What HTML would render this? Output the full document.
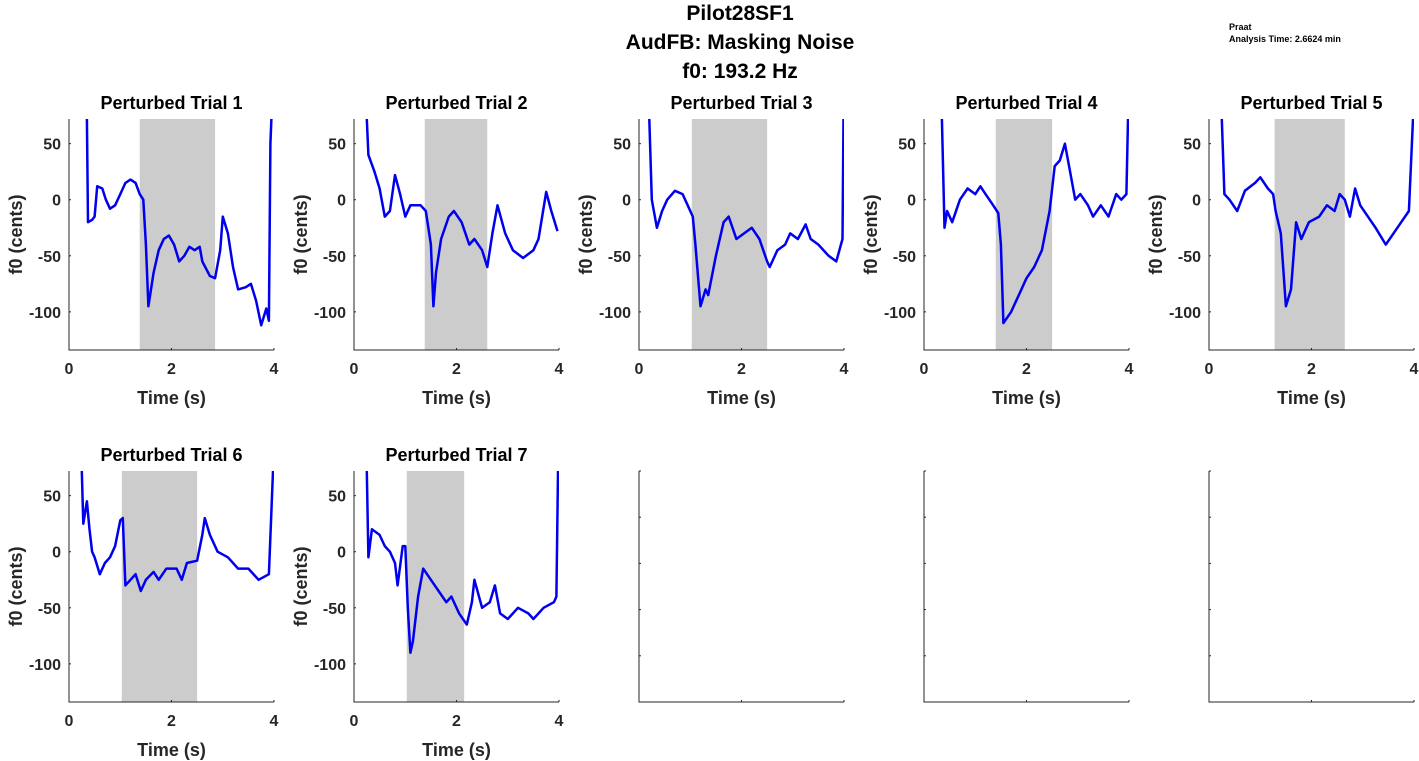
<!DOCTYPE html>
<html><head><meta charset="utf-8"><style>
html,body{margin:0;padding:0;background:#fff;}
svg{display:block;font-family:"Liberation Sans",Arial,sans-serif;}
</style></head><body>
<svg id="fig" width="1419" height="761" viewBox="0 0 1419 761">
<g font-weight="bold" font-size="21" fill="#000" text-anchor="middle">
<text x="740" y="20">Pilot28SF1</text>
<text x="740" y="49">AudFB: Masking Noise</text>
<text x="740" y="78">f0: 193.2 Hz</text>
</g>
<g font-weight="bold" font-size="9" fill="#000">
<text x="1229" y="30">Praat</text>
<text x="1229" y="42">Analysis Time: 2.6624 min</text>
</g>
</svg>
<script>
const trialTitles = ["Perturbed Trial 1","Perturbed Trial 2","Perturbed Trial 3","Perturbed Trial 4","Perturbed Trial 5","Perturbed Trial 6","Perturbed Trial 7"];
const shadeStart = [1.38, 1.38, 1.03, 1.4, 1.28, 1.03, 1.03];
const shadeEnd = [2.85, 2.6, 2.5, 2.5, 2.65, 2.5, 2.15];
const xTicks = [0, 2, 4];
const yTicks = [50, 0, -50, -100];
const yMin = -134, yMax = 72;
const t1 = [0.35,0.37,0.45,0.5,0.55,0.65,0.72,0.8,0.9,1.0,1.1,1.2,1.3,1.38,1.45,1.5,1.55,1.65,1.75,1.85,1.95,2.05,2.15,2.25,2.35,2.45,2.55,2.6,2.75,2.85,2.95,3.0,3.1,3.2,3.3,3.45,3.55,3.65,3.75,3.85,3.9,3.93,3.95];
const v1 = [72,-20,-18,-15,12,10,0,-8,-5,5,15,18,15,5,0,-40,-95,-65,-45,-35,-32,-40,-55,-50,-42,-45,-42,-55,-68,-70,-45,-15,-30,-60,-80,-78,-75,-90,-112,-97,-108,50,72];
const t2 = [0.25,0.28,0.4,0.5,0.6,0.7,0.8,0.9,1.0,1.1,1.3,1.4,1.5,1.55,1.6,1.7,1.85,1.95,2.1,2.25,2.35,2.5,2.6,2.7,2.8,2.95,3.1,3.3,3.5,3.6,3.75,3.85,3.97];
const v2 = [72,40,25,10,-15,-10,22,5,-15,-5,-5,-10,-40,-95,-65,-35,-15,-10,-20,-40,-35,-45,-60,-30,-5,-30,-45,-52,-45,-35,7,-10,-28];
const t3 = [0.2,0.25,0.35,0.45,0.55,0.7,0.85,0.95,1.05,1.1,1.2,1.3,1.35,1.5,1.65,1.75,1.9,2.05,2.2,2.35,2.5,2.55,2.7,2.85,2.95,3.1,3.25,3.35,3.5,3.7,3.85,3.97,3.99];
const v3 = [72,0,-25,-10,0,8,5,-5,-15,-40,-95,-80,-85,-50,-20,-15,-35,-30,-25,-35,-55,-60,-45,-40,-30,-35,-22,-35,-40,-50,-55,-35,72];
const t4 = [0.35,0.4,0.45,0.55,0.7,0.85,1.0,1.1,1.2,1.35,1.45,1.5,1.55,1.7,1.85,2.0,2.15,2.3,2.45,2.55,2.65,2.75,2.85,2.95,3.05,3.2,3.3,3.45,3.6,3.75,3.85,3.95,3.98];
const v4 = [72,-25,-10,-20,0,10,5,12,5,-5,-12,-40,-110,-100,-85,-70,-60,-45,-10,30,35,50,25,0,5,-5,-15,-5,-15,5,0,5,72];
const t5 = [0.25,0.3,0.4,0.55,0.7,0.9,1.0,1.15,1.25,1.3,1.4,1.5,1.6,1.7,1.8,1.95,2.15,2.3,2.45,2.55,2.65,2.75,2.85,2.95,3.1,3.25,3.45,3.6,3.75,3.9,3.98];
const v5 = [72,5,0,-10,8,15,20,10,5,-10,-30,-95,-80,-20,-35,-20,-15,-5,-10,5,0,-15,10,-5,-15,-25,-40,-30,-20,-10,72];
const t6 = [0.25,0.28,0.35,0.4,0.45,0.5,0.6,0.7,0.8,0.9,1.0,1.05,1.1,1.2,1.3,1.4,1.5,1.65,1.75,1.9,2.1,2.2,2.3,2.5,2.6,2.65,2.75,2.9,3.1,3.3,3.5,3.7,3.9,3.98];
const v6 = [72,25,45,20,0,-5,-20,-10,-5,5,28,30,-30,-25,-20,-35,-25,-18,-25,-15,-15,-25,-10,-8,15,30,15,0,-5,-15,-15,-25,-20,72];
const t7 = [0.25,0.28,0.35,0.5,0.6,0.7,0.8,0.85,0.95,1.0,1.05,1.1,1.15,1.25,1.35,1.5,1.65,1.8,1.9,2.05,2.2,2.3,2.35,2.5,2.65,2.75,2.85,3.0,3.2,3.4,3.5,3.7,3.9,3.95,3.98];
const v7 = [72,-5,20,15,5,0,-10,-30,5,5,-50,-90,-80,-40,-15,-25,-35,-45,-40,-55,-65,-45,-25,-50,-45,-30,-55,-60,-50,-55,-60,-50,-45,-40,72];
const seriesT = [t1,t2,t3,t4,t5,t6,t7];
const seriesV = [v1,v2,v3,v4,v5,v6,v7];
const emptyYTicks = [0,0.2,0.4,0.6,0.8,1];
const emptyXTicks = [0,0.5,1];

const NS = "http://www.w3.org/2000/svg";
const svg = document.getElementById("fig");
const colX = [69,354,639,924,1209], W = 205;
const rowY = [119,471], H = 231;
function mk(tag, attrs, parent){const e=document.createElementNS(NS,tag);for(const k in attrs)e.setAttribute(k,attrs[k]);parent.appendChild(e);return e;}

for (let p=0;p<10;p++){
  const x0 = colX[p%5], y0 = rowY[Math.floor(p/5)];
  const g = mk("g",{},svg);
  
  
  if (p < 7){
    const sx = t => x0 + t/4*W;
    const sy = v => y0 + (yMax - v)/(yMax - yMin)*H;
    const r = mk("rect",{x:sx(shadeStart[p]),y:y0,width:sx(shadeEnd[p])-sx(shadeStart[p]),height:H,fill:"#cccccc"},g);
    
    
    const tt = seriesT[p], vv = seriesV[p];
    let d = "";
    for (let i=0;i<tt.length;i++){const vc=Math.max(yMin,Math.min(yMax,vv[i]));d += (i?"L":"M")+sx(tt[i]).toFixed(1)+","+sy(vc).toFixed(1);}
    const cp = mk("clipPath",{id:"c"+p},g); mk("rect",{x:x0,y:y0,width:W,height:H},cp);
    const line = mk("path",{d:d,fill:"none",stroke:"#0000ee","stroke-width":2.5,"stroke-linejoin":"round","clip-path":"url(#c"+p+")"},g);
    
    
    mk("path",{d:`M${x0},${y0}V${y0+H}H${x0+W}`,fill:"none",stroke:"#262626","stroke-width":1},g);
    xTicks.forEach(t=>{
      mk("line",{x1:sx(t),x2:sx(t),y1:y0+H,y2:y0+H-2,stroke:"#262626"},g);
      const l=mk("text",{x:sx(t),y:y0+H+24,"text-anchor":"middle","font-size":16,"font-weight":"bold",fill:"#262626"},g);l.textContent=t;
      
      
    });
    yTicks.forEach(v=>{
      mk("line",{x1:x0,x2:x0+2,y1:sy(v),y2:sy(v),stroke:"#262626"},g);
      const l=mk("text",{x:x0-8,y:sy(v)+6,"text-anchor":"end","font-size":16,"font-weight":"bold",fill:"#262626"},g);l.textContent=v;
      
      
    });
    const ti=mk("text",{x:x0+W/2,y:y0-10,"text-anchor":"middle","font-size":18,"font-weight":"bold",fill:"#000"},g);ti.textContent=trialTitles[p];
    
    
    const xl=mk("text",{x:x0+W/2,y:y0+H+54,"text-anchor":"middle","font-size":18,"font-weight":"bold",fill:"#262626"},g);xl.textContent="Time (s)";
    
    
    const yx=x0-47, yy=y0+H/2;
    const yl=mk("text",{x:yx,y:yy,"text-anchor":"middle","font-size":18,"font-weight":"bold",fill:"#262626",transform:`rotate(-90 ${yx} ${yy})`},g);yl.textContent="f0 (cents)";
    
    
  } else {
    mk("path",{d:`M${x0},${y0}V${y0+H}H${x0+W}`,fill:"none",stroke:"#262626","stroke-width":1},g);
    emptyYTicks.forEach(v=>{const y=y0+H-v*H;mk("line",{x1:x0,x2:x0+2,y1:y,y2:y,stroke:"#262626"},g);});
    emptyXTicks.forEach(v=>{const x=x0+v*W;mk("line",{x1:x,x2:x,y1:y0+H,y2:y0+H-2,stroke:"#262626"},g);});
  }
}
</script>
</body></html>
